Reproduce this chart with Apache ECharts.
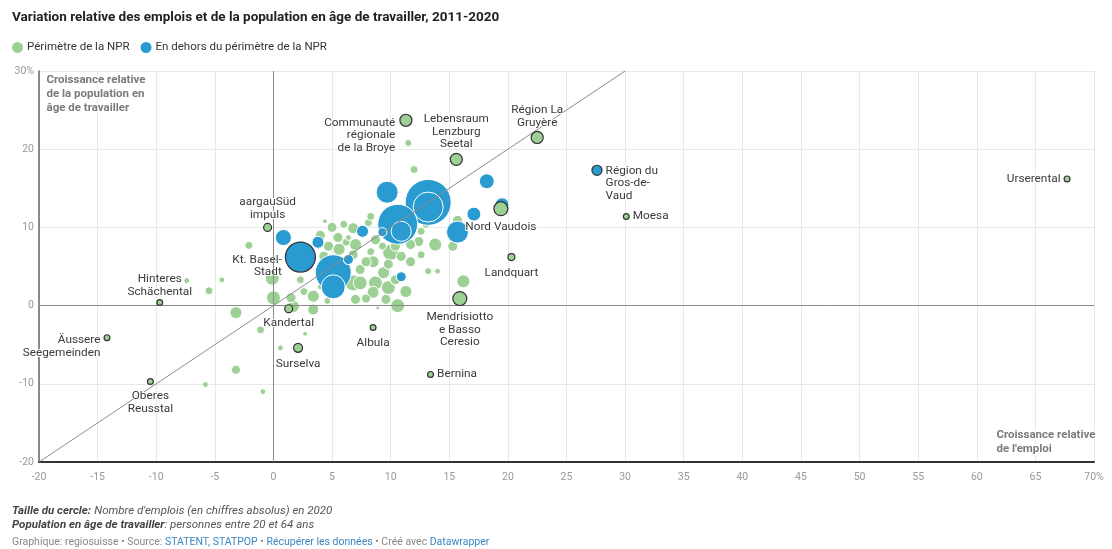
<!DOCTYPE html>
<html>
<head>
<meta charset="utf-8">
<script src="https://cdn.jsdelivr.net/npm/echarts@6/dist/echarts.min.js"></script>
<style>
  html, body { margin: 0; padding: 0; background: #fff; }
  #chart { width: 1112px; height: 549px; }
</style>
</head>
<body>
<div id="chart"></div>
<script>
// Périmètre de la NPR (régions sans étiquette) : emplois en milliers
const nprX = [-7.4, -4.4, -5.5, -3.2, -3.2, -5.8, -0.9, -1.1, 0.6, 2.7, -2.1, -0.1, 0.0, 1.5, 2.6, 3.4, 4.6, 3.4, 1.7, 7.9,
  10.6, 8.9, 4.0, 11.5, 12.0, 4.4, 5.0, 6.0, 6.8, 6.4, 5.5, 4.7, 5.6, 6.2, 8.1, 8.3, 12.4, 13.8, 15.3, 15.7,
  13.2, 14.0, 16.2, 6.8, 8.7, 9.8, 9.4, 10.0, 9.3, 8.3, 9.8, 8.5, 7.4, 8.5, 6.8, 10.4, 10.9, 4.3, 12.6,
  6.1, 7.4, 4.9, 10.4, 11.3, 9.6, 7.0, 5.7, 11.7, 12.6, 2.3, 4.0,
  4.0, 7.0, 7.9, 8.7, 11.7, 13.0]
const nprY = [3.2, 3.3, 1.9, -0.9, -8.2, -10.1, -11.0, -3.1, -5.4, -3.6, 7.7, 3.5, 1.0, 1.0, 1.8, 1.2, 0.6, -0.5, -0.1, 0.9,
  0.0, -0.3, 2.4, 20.8, 17.4, 10.8, 10.0, 10.4, 9.9, 8.7, 8.7, 7.6, 7.2, 8.1, 10.6, 11.4, 8.2, 7.8, 7.6, 10.9,
  4.4, 4.4, 3.1, 2.9, 2.9, 2.3, 4.2, 6.8, 7.6, 6.9, 5.3, 5.6, 2.9, 1.7, 6.5, 7.6, 6.3, 6.3, 9.5,
  5.2, 4.6, 5.9, 3.3, 1.8, 0.8, 0.8, 1.8, 5.6, 6.5, 3.3, 4.0,
  9.0, 7.8, 5.6, 8.4, 7.8, 10.4]
const nprJobs = [7, 7, 13, 30, 17, 7, 7, 13, 7, 5, 13, 40, 40, 21, 13, 30, 10, 25, 30, 17,
  40, 3, 7, 10, 13, 5, 21, 13, 25, 7, 21, 21, 30, 13, 13, 13, 21, 35, 21, 21,
  10, 7, 35, 53, 40, 40, 30, 53, 13, 13, 21, 30, 40, 30, 21, 21, 21, 21, 13,
  30, 21, 21, 21, 30, 21, 21, 13, 21, 13, 13, 13,
  21, 30, 21, 21, 21, 13]

// En dehors du périmètre de la NPR (sans étiquette)
const outX = [9.7, 13.2, 13.2, 10.6, 10.9, 9.3, 7.6, 5.1, 5.1, 6.4, 0.85, 3.8, 10.9, 15.7, 17.1, 18.2, 19.5]
const outY = [14.5, 13.2, 12.6, 10.4, 9.5, 9.4, 9.5, 4.2, 2.4, 5.9, 8.7, 8.1, 3.7, 9.4, 11.7, 15.9, 12.9]
const outJobs = [100, 437, 186, 330, 83, 17, 30, 268, 119, 21, 53, 30, 21, 100, 40, 46, 40]

// Régions annotées
const labelNames = ['Communauté\nrégionale\nde la Broye', 'Lebensraum\nLenzburg\nSeetal', 'Région La\nGruyère',
  'Région du\nGros-de-\nVaud', 'Moesa', 'Urserental', 'Nord Vaudois', 'Landquart', 'Mendrisiotto\ne Basso\nCeresio',
  'Bernina', 'Albula', 'Surselva', 'Kandertal', 'Kt. Basel-\nStadt', 'aargauSüd\nimpuls', 'Hinteres\nSchächental',
  'Äussere\nSeegemeinden', 'Oberes\nReusstal']
const labelX = [11.3, 15.6, 22.5, 27.6, 30.1, 67.7, 19.4, 20.3, 15.9, 13.4, 8.5, 2.1, 1.3, 2.3, -0.5, -9.7, -14.2, -10.5]
const labelY = [23.7, 18.7, 21.5, 17.3, 11.4, 16.2, 12.4, 6.2, 0.9, -8.8, -2.8, -5.4, -0.4, 6.2, 10.0, 0.4, -4.1, -9.7]
const labelJobs = [30, 30, 30, 21, 7, 7, 40, 10, 40, 7, 7, 17, 13, 186, 13, 7, 7, 7]
const labelGroup = ['npr', 'npr', 'npr', 'out', 'npr', 'npr', 'npr', 'npr', 'npr', 'npr', 'npr', 'npr', 'npr', 'out', 'npr', 'npr', 'npr', 'npr']

const groupNames = { npr: 'Périmètre de la NPR', out: 'En dehors du périmètre de la NPR' }
const colors = { npr: '#9dd094', out: '#2a9bd0' }

// placement des étiquettes (dy : décalage vertical du bloc de texte)
const labelPos = {
  'Communauté\nrégionale\nde la Broye': { position: 'left', distance: 4, dy: 15 },
  'Lebensraum\nLenzburg\nSeetal': { position: 'top', distance: 2 },
  'Région La\nGruyère': { position: 'top', distance: 2 },
  'Région du\nGros-de-\nVaud': { position: 'right', distance: 3, dy: 13 },
  'Moesa': { position: 'right', distance: 3 },
  'Urserental': { position: 'left', distance: 3 },
  'Nord Vaudois': { position: 'bottom', distance: 5 },
  'Landquart': { position: 'bottom', distance: 6 },
  'Mendrisiotto\ne Basso\nCeresio': { position: 'bottom', distance: 5 },
  'Bernina': { position: 'right', distance: 3 },
  'Albula': { position: 'bottom', distance: 6 },
  'Surselva': { position: 'bottom', distance: 5 },
  'Kandertal': { position: 'bottom', distance: 4 },
  'Kt. Basel-\nStadt': { position: 'left', distance: 3, dy: 9 },
  'aargauSüd\nimpuls': { position: 'top', distance: 2 },
  'Hinteres\nSchächental': { position: 'top', distance: 1 },
  'Äussere\nSeegemeinden': { position: 'left', distance: 3, dy: 9 },
  'Oberes\nReusstal': { position: 'bottom', distance: 5 }
}

const font = 'Roboto, "Noto Sans", sans-serif'
const bubble = (v) => 2.2 * Math.sqrt(v)

const toPoints = (xs, ys, js) =>
  xs.map((x, i) => [x, ys[i], js[i]]).sort((a, b) => b[2] - a[2])

const labeled = (group) =>
  labelNames
    .map((name, i) => ({ name, i }))
    .filter((d) => labelGroup[d.i] === group)
    .sort((a, b) => labelJobs[b.i] - labelJobs[a.i])
    .map(({ name, i }) => ({
      name,
      value: [labelX[i], labelY[i], labelJobs[i]],
      label: { show: true, position: labelPos[name].position, distance: labelPos[name].distance }
    }))

const labelStyle = {
  formatter: '{b}',
  fontFamily: font,
  fontSize: 11.8,
  lineHeight: 12.5,
  color: '#3a3a3a',
  textBorderColor: '#fff',
  textBorderWidth: 2
}

// décalage vertical appliqué après placement
const shiftLabels = (params) => {
  const p = labelPos[params.text]
  return p && p.dy ? { dy: p.dy } : {}
}

const chart = echarts.init(document.getElementById('chart'))

const option = {
  animation: false,
  textStyle: { fontFamily: font },
  title: {
    text: 'Variation relative des emplois et de la population en âge de travailler, 2011-2020',
    left: 12,
    top: 11,
    padding: 0,
    textStyle: { fontSize: 13.5, fontWeight: 'bold', color: '#222', fontFamily: font }
  },
  legend: {
    data: [groupNames.npr, groupNames.out],
    left: 10,
    top: 40,
    padding: 0,
    icon: 'circle',
    itemWidth: 13,
    itemHeight: 13,
    itemGap: 9,
    textStyle: { fontSize: 11.5, color: '#333', fontFamily: font, padding: [0, 0, 0, -2] }
  },
  grid: { left: 39, right: 18, top: 71, bottom: 87 },
  xAxis: {
    type: 'value',
    min: -20,
    max: 70,
    interval: 5,
    axisLine: { show: true, onZero: false, lineStyle: { color: '#333', width: 2 } },
    axisTick: { show: false },
    splitLine: { lineStyle: { color: '#e8e8e8' } },
    axisLabel: {
      color: '#999',
      fontSize: 10.5,
      margin: 10,
      formatter: (v) => (v === 70 ? '70%' : String(v))
    }
  },
  yAxis: {
    type: 'value',
    min: -20,
    max: 30,
    interval: 10,
    axisLine: { show: true, onZero: false, lineStyle: { color: '#666', width: 1.5 } },
    axisTick: { show: false },
    splitLine: { lineStyle: { color: '#e8e8e8' } },
    axisLabel: {
      color: '#999',
      fontSize: 10.5,
      margin: 5,
      formatter: (v) => (v === 30 ? '30%' : String(v))
    }
  },
  graphic: [
    {
      type: 'text', left: 45, top: 73, silent: true, z: 10,
      style: {
        text: 'Croissance relative\nde la population en\nâge de travailler',
        font: 'bold 11.5px ' + font, fill: '#7a7a7a', lineHeight: 14,
        stroke: '#fff', lineWidth: 3
      }
    },
    {
      type: 'text', right: 15, top: 428, silent: true, z: 10,
      style: {
        text: 'Croissance relative\nde l\'emploi',
        font: 'bold 11.5px ' + font, fill: '#7a7a7a', lineHeight: 14, align: 'right',
        stroke: '#fff', lineWidth: 3
      }
    },
    {
      type: 'text', left: 12, top: 504, silent: true,
      style: {
        text: '{b|Taille du cercle:} {i|Nombre d\'emplois (en chiffres absolus) en 2020}\n' +
          '{b|Population en âge de travailler}{i|: personnes entre 20 et 64 ans}',
        lineHeight: 14,
        rich: {
          b: { fontFamily: font, fontSize: 11.5, fontWeight: 'bold', fontStyle: 'italic', fill: '#444', lineHeight: 14 },
          i: { fontFamily: font, fontSize: 11.5, fontStyle: 'italic', fill: '#555', lineHeight: 14 }
        }
      }
    },
    {
      type: 'text', left: 12, top: 537, silent: true,
      style: {
        text: '{g|Graphique: regiosuisse • Source: }{l|STATENT, STATPOP}{g| • }{l|Récupérer les données}{g| • Créé avec }{l|Datawrapper}',
        rich: {
          g: { fontFamily: font, fontSize: 10.5, fill: '#888' },
          l: { fontFamily: font, fontSize: 10.5, fill: '#3b87c4' }
        }
      }
    }
  ],
  series: [
    {
      // lignes de référence : axes zéro et diagonale x = y
      type: 'scatter',
      data: [],
      z: 1,
      silent: true,
      markLine: {
        silent: true,
        symbol: 'none',
        label: { show: false },
        lineStyle: { color: '#8a8a8a', width: 1, type: 'solid' },
        data: [
          { xAxis: 0 },
          { yAxis: 0 },
          [{ coord: [-20, -20] }, { coord: [30, 30] }]
        ]
      }
    },
    {
      name: groupNames.npr,
      type: 'scatter',
      z: 2,
      data: toPoints(nprX, nprY, nprJobs),
      symbolSize: (v) => bubble(v[2]),
      itemStyle: { color: colors.npr, borderColor: '#fff', borderWidth: 1, opacity: 1 }
    },
    {
      name: groupNames.out,
      type: 'scatter',
      z: 3,
      data: toPoints(outX, outY, outJobs),
      symbolSize: (v) => bubble(v[2]),
      itemStyle: { color: colors.out, borderColor: '#fff', borderWidth: 1, opacity: 1 }
    },
    {
      name: groupNames.out,
      type: 'scatter',
      z: 4,
      data: labeled('out'),
      symbolSize: (v) => bubble(v[2]),
      itemStyle: { color: colors.out, borderColor: '#333', borderWidth: 1.2, opacity: 1 },
      label: labelStyle,
      labelLayout: shiftLabels
    },
    {
      name: groupNames.npr,
      type: 'scatter',
      z: 5,
      data: labeled('npr'),
      symbolSize: (v) => bubble(v[2]),
      itemStyle: { color: colors.npr, borderColor: '#333', borderWidth: 1.2, opacity: 1 },
      label: labelStyle,
      labelLayout: shiftLabels
    }
  ]
}

chart.setOption(option)
window.addEventListener('resize', () => chart.resize())
</script>
</body>
</html>
